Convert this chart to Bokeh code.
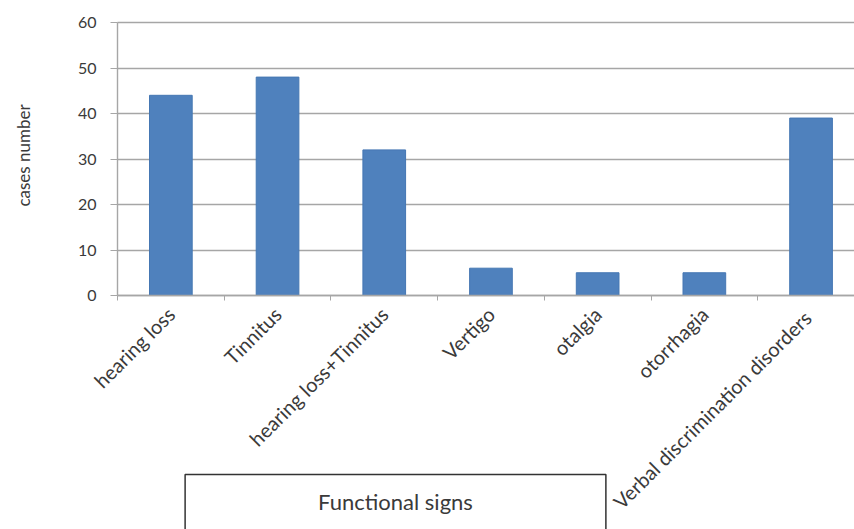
from bokeh.plotting import figure
from bokeh.models import FixedTicker, Range1d, Label
from bokeh.embed import file_html
from bokeh.resources import INLINE
import math

categories = ["hearing loss", "Tinnitus", "hearing loss+Tinnitus", "Vertigo",
              "otalgia", "otorrhagia", "Verbal discrimination  disorders"]
cases = [44, 48, 32, 6, 5, 5, 39]
y_ticks = [0, 10, 20, 30, 40, 50, 60]
y_title = "cases number"
box_title = "Functional signs"

n = len(categories)
centers = [i + 0.5 for i in range(n)]
bounds = [i for i in range(n + 1)]

FONT = "Lato"
TXT = "#3a3a3a"
GRID = "#a6a6a6"

W, H = 854, 529
LEFT, TOP, ZERO = 117, 22, 295        # pixel positions of the plot area
CAT_PX = 106.7                         # pixel width of one category
YPX = (ZERO - TOP) / 60.0              # pixels per case

p = figure(width=W, height=H, output_backend="svg", toolbar_location=None,
           x_range=Range1d(-LEFT / CAT_PX, (W - LEFT) / CAT_PX),
           y_range=Range1d(-(H - ZERO) / YPX, 60 + TOP / YPX),
           min_border=0, min_border_left=0, min_border_right=0,
           min_border_top=0, min_border_bottom=0)
p.outline_line_color = None
p.background_fill_color = "white"
p.border_fill_color = "white"

p.vbar(x=centers, top=cases, width=0.4, fill_color="#4f81bd", line_color="#4577b3", line_width=1)

p.xgrid.grid_line_color = None
p.ygrid.ticker = FixedTicker(ticks=y_ticks)
p.ygrid.grid_line_color = GRID
p.ygrid.grid_line_width = 1.4
p.ygrid.cross_bounds = (0, (W - LEFT) / CAT_PX)

xa = p.xaxis[0]
xa.fixed_location = 0
xa.bounds = (0, (W - LEFT) / CAT_PX)
xa.ticker = FixedTicker(ticks=centers, minor_ticks=bounds)
xa.major_label_overrides = {c: lab for c, lab in zip(centers, categories)}
xa.major_tick_out = 0
xa.major_tick_in = 0
xa.minor_tick_out = 5
xa.minor_tick_in = 0
xa.minor_tick_line_color = GRID
xa.axis_line_color = GRID
xa.axis_line_width = 1.4
xa.major_label_orientation = math.pi / 4
xa.major_label_text_font = FONT
xa.major_label_text_font_size = "20px"
xa.major_label_text_color = TXT
xa.major_label_standoff = 10

ya = p.yaxis[0]
ya.fixed_location = 0
ya.bounds = (0, 60)
ya.ticker = FixedTicker(ticks=y_ticks)
ya.major_tick_out = 7
ya.major_tick_in = 0
ya.minor_tick_out = 0
ya.minor_tick_in = 0
ya.axis_line_color = GRID
ya.axis_line_width = 1.4
ya.major_tick_line_color = GRID
ya.major_label_text_font = FONT
ya.major_label_text_font_size = "16px"
ya.major_label_text_color = TXT
ya.major_label_standoff = 14

ylab = Label(x=23, y=H - 155, x_units="screen", y_units="screen", text=y_title,
             angle=math.pi / 2, text_align="center", text_baseline="middle",
             text_font=FONT, text_font_size="17px", text_color=TXT)
p.add_layout(ylab)

box = Label(x=395, y=H - 647, x_units="screen", y_units="screen", text=box_title,
            text_align="center", text_font=FONT, text_font_size="22px", text_color=TXT,
            border_line_color="#333333", border_line_width=1.5,
            background_fill_color="white", padding=(133, 133, 13, 133))
p.add_layout(box)

open("out.html", "w").write(file_html(p, INLINE))
